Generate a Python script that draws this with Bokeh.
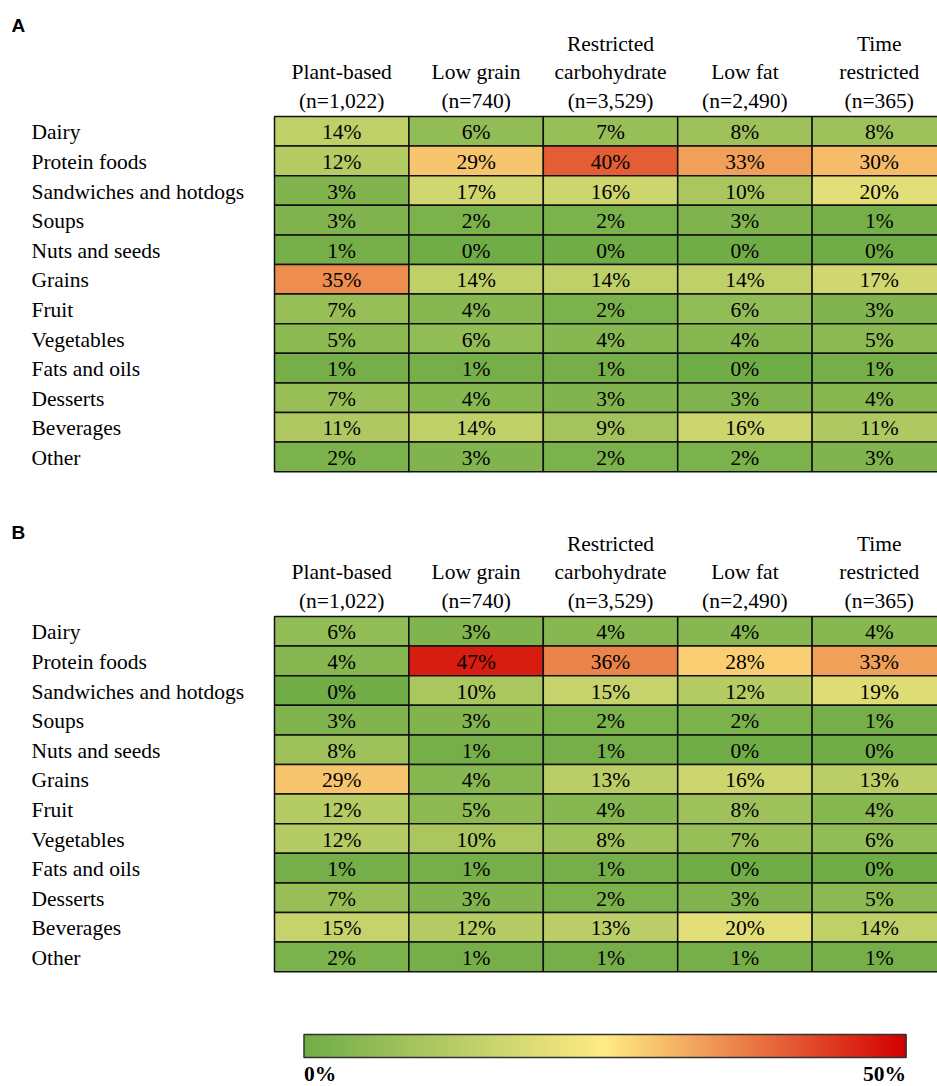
import numpy as np
from bokeh.plotting import figure
from bokeh.models import ColumnDataSource, Range1d
from bokeh.core.properties import value
from bokeh.embed import file_html
from bokeh.resources import INLINE

# ---------------------------------------------------------------- data
food_groups = ["Dairy", "Protein foods", "Sandwiches and hotdogs", "Soups",
               "Nuts and seeds", "Grains", "Fruit", "Vegetables",
               "Fats and oils", "Desserts", "Beverages", "Other"]
diet_names = [["Plant-based"], ["Low grain"], ["Restricted", "carbohydrate"],
              ["Low fat"], ["Time", "restricted"]]
diet_n = ["1,022", "740", "3,529", "2,490", "365"]

# Panel A: share of intake (%) by food group
a_plant_based = [14, 12, 3, 3, 1, 35, 7, 5, 1, 7, 11, 2]
a_low_grain = [6, 29, 17, 2, 0, 14, 4, 6, 1, 4, 14, 3]
a_restricted_carb = [7, 40, 16, 2, 0, 14, 2, 4, 1, 3, 9, 2]
a_low_fat = [8, 33, 10, 3, 0, 14, 6, 4, 0, 3, 16, 2]
a_time_restricted = [8, 30, 20, 1, 0, 17, 3, 5, 1, 4, 11, 3]

# Panel B: share of intake (%) by food group
b_plant_based = [6, 4, 0, 3, 8, 29, 12, 12, 1, 7, 15, 2]
b_low_grain = [3, 47, 10, 3, 1, 4, 5, 10, 1, 3, 12, 1]
b_restricted_carb = [4, 36, 15, 2, 1, 13, 4, 8, 1, 2, 13, 1]
b_low_fat = [4, 28, 12, 2, 0, 16, 8, 7, 0, 3, 20, 1]
b_time_restricted = [4, 33, 19, 1, 0, 13, 4, 6, 0, 5, 14, 1]

scale_min, scale_max = 0, 50

panels = [
    ("A", [a_plant_based, a_low_grain, a_restricted_carb, a_low_fat, a_time_restricted]),
    ("B", [b_plant_based, b_low_grain, b_restricted_carb, b_low_fat, b_time_restricted]),
]

# ---------------------------------------------------------------- layout
W, H = 937, 1086
TABLE_LEFT = 274.0
COL_W = 134.4
ROW_H = 29.6
PANEL_TOPS = [116.0, 616.0]      # top edge of each table
LABEL_Y = [25.0, 532.0]          # panel letter centres
HEADER_STEP = 28.5
ROW_LABEL_X = 31.0
SERIF = value("Liberation Serif")
FONT_SIZE = "21.5px"

# three-colour scale: green -> yellow -> red
STOPS = np.array([[112, 173, 71], [255, 235, 132], [210, 0, 0]], dtype=float)


def scale_color(v):
    t = (v - scale_min) / (scale_max - scale_min)
    t = min(max(t, 0.0), 1.0)
    if t <= 0.5:
        c = STOPS[0] + (STOPS[1] - STOPS[0]) * (t / 0.5)
    else:
        c = STOPS[1] + (STOPS[2] - STOPS[1]) * ((t - 0.5) / 0.5)
    r, g, b = (int(round(x)) for x in c)
    return f"#{r:02x}{g:02x}{b:02x}"


p = figure(width=W, height=H, x_range=Range1d(0, W), y_range=Range1d(H, 0),
           output_backend="svg", toolbar_location=None, min_border=0)
p.axis.visible = False
p.grid.visible = False
p.outline_line_color = None
p.background_fill_color = "white"

for (letter, columns), top, ly in zip(panels, PANEL_TOPS, LABEL_Y):
    # panel letter
    p.text(x=[11], y=[ly], text=[letter], text_font=value("Liberation Sans"),
           text_font_style="bold", text_font_size="19px",
           text_baseline="middle", text_align="left", text_color="black")

    # cells
    left, right, ctop, cbot, xs, ys, colors, labels = [], [], [], [], [], [], [], []
    for ci, series in enumerate(columns):
        for ri, v in enumerate(series):
            l = TABLE_LEFT + ci * COL_W
            t = top + ri * ROW_H
            left.append(l)
            right.append(l + COL_W)
            ctop.append(t)
            cbot.append(t + ROW_H)
            xs.append(l + COL_W / 2)
            ys.append(t + ROW_H / 2 + 1)
            colors.append(scale_color(v))
            labels.append(f"{v}%")
    src = ColumnDataSource(dict(left=left, right=right, top=ctop, bottom=cbot,
                                x=xs, y=ys, color=colors, label=labels))
    p.quad(left="left", right="right", top="top", bottom="bottom", source=src,
           fill_color="color", line_color="#111111", line_width=1.5)
    p.text(x="x", y="y", text="label", source=src, text_font=SERIF,
           text_font_size=FONT_SIZE, text_align="center",
           text_baseline="middle", text_color="black")

    # row labels
    p.text(x=[ROW_LABEL_X] * len(food_groups),
           y=[top + (i + 0.5) * ROW_H + 1 for i in range(len(food_groups))],
           text=food_groups, text_font=SERIF, text_font_size=FONT_SIZE,
           text_align="left", text_baseline="middle", text_color="black")

    # column headers (bottom-aligned stack of lines)
    hx, hy, ht = [], [], []
    for ci, (name_lines, n) in enumerate(zip(diet_names, diet_n)):
        lines = name_lines + [f"(n={n})"]
        cx = TABLE_LEFT + (ci + 0.5) * COL_W
        base = top - 16
        for k, line in enumerate(reversed(lines)):
            hx.append(cx)
            hy.append(base - k * HEADER_STEP)
            ht.append(line)
    p.text(x=hx, y=hy, text=ht, text_font=SERIF, text_font_size=FONT_SIZE,
           text_align="center", text_baseline="middle", text_color="black")

# ---------------------------------------------------------------- colour bar
CB_LEFT, CB_RIGHT, CB_TOP, CB_BOTTOM = 303.5, 905.5, 1034.0, 1057.0
steps = np.linspace(scale_min, scale_max, 301)
edges = np.linspace(CB_LEFT, CB_RIGHT, len(steps) + 1)
p.quad(left=edges[:-1], right=edges[1:] + 0.6, top=CB_TOP, bottom=CB_BOTTOM,
       fill_color=[scale_color(v) for v in steps], line_color=None)
p.quad(left=[CB_LEFT], right=[CB_RIGHT], top=[CB_TOP], bottom=[CB_BOTTOM],
       fill_color=None, line_color="#333333", line_width=1.5)
p.text(x=[CB_LEFT, CB_RIGHT], y=[1073, 1073],
       text=[f"{scale_min}%", f"{scale_max}%"], text_font=SERIF,
       text_font_size=FONT_SIZE, text_font_style="bold",
       text_align=["left", "right"], text_baseline="middle", text_color="black")

open("out.html", "w").write(file_html(p, INLINE))
